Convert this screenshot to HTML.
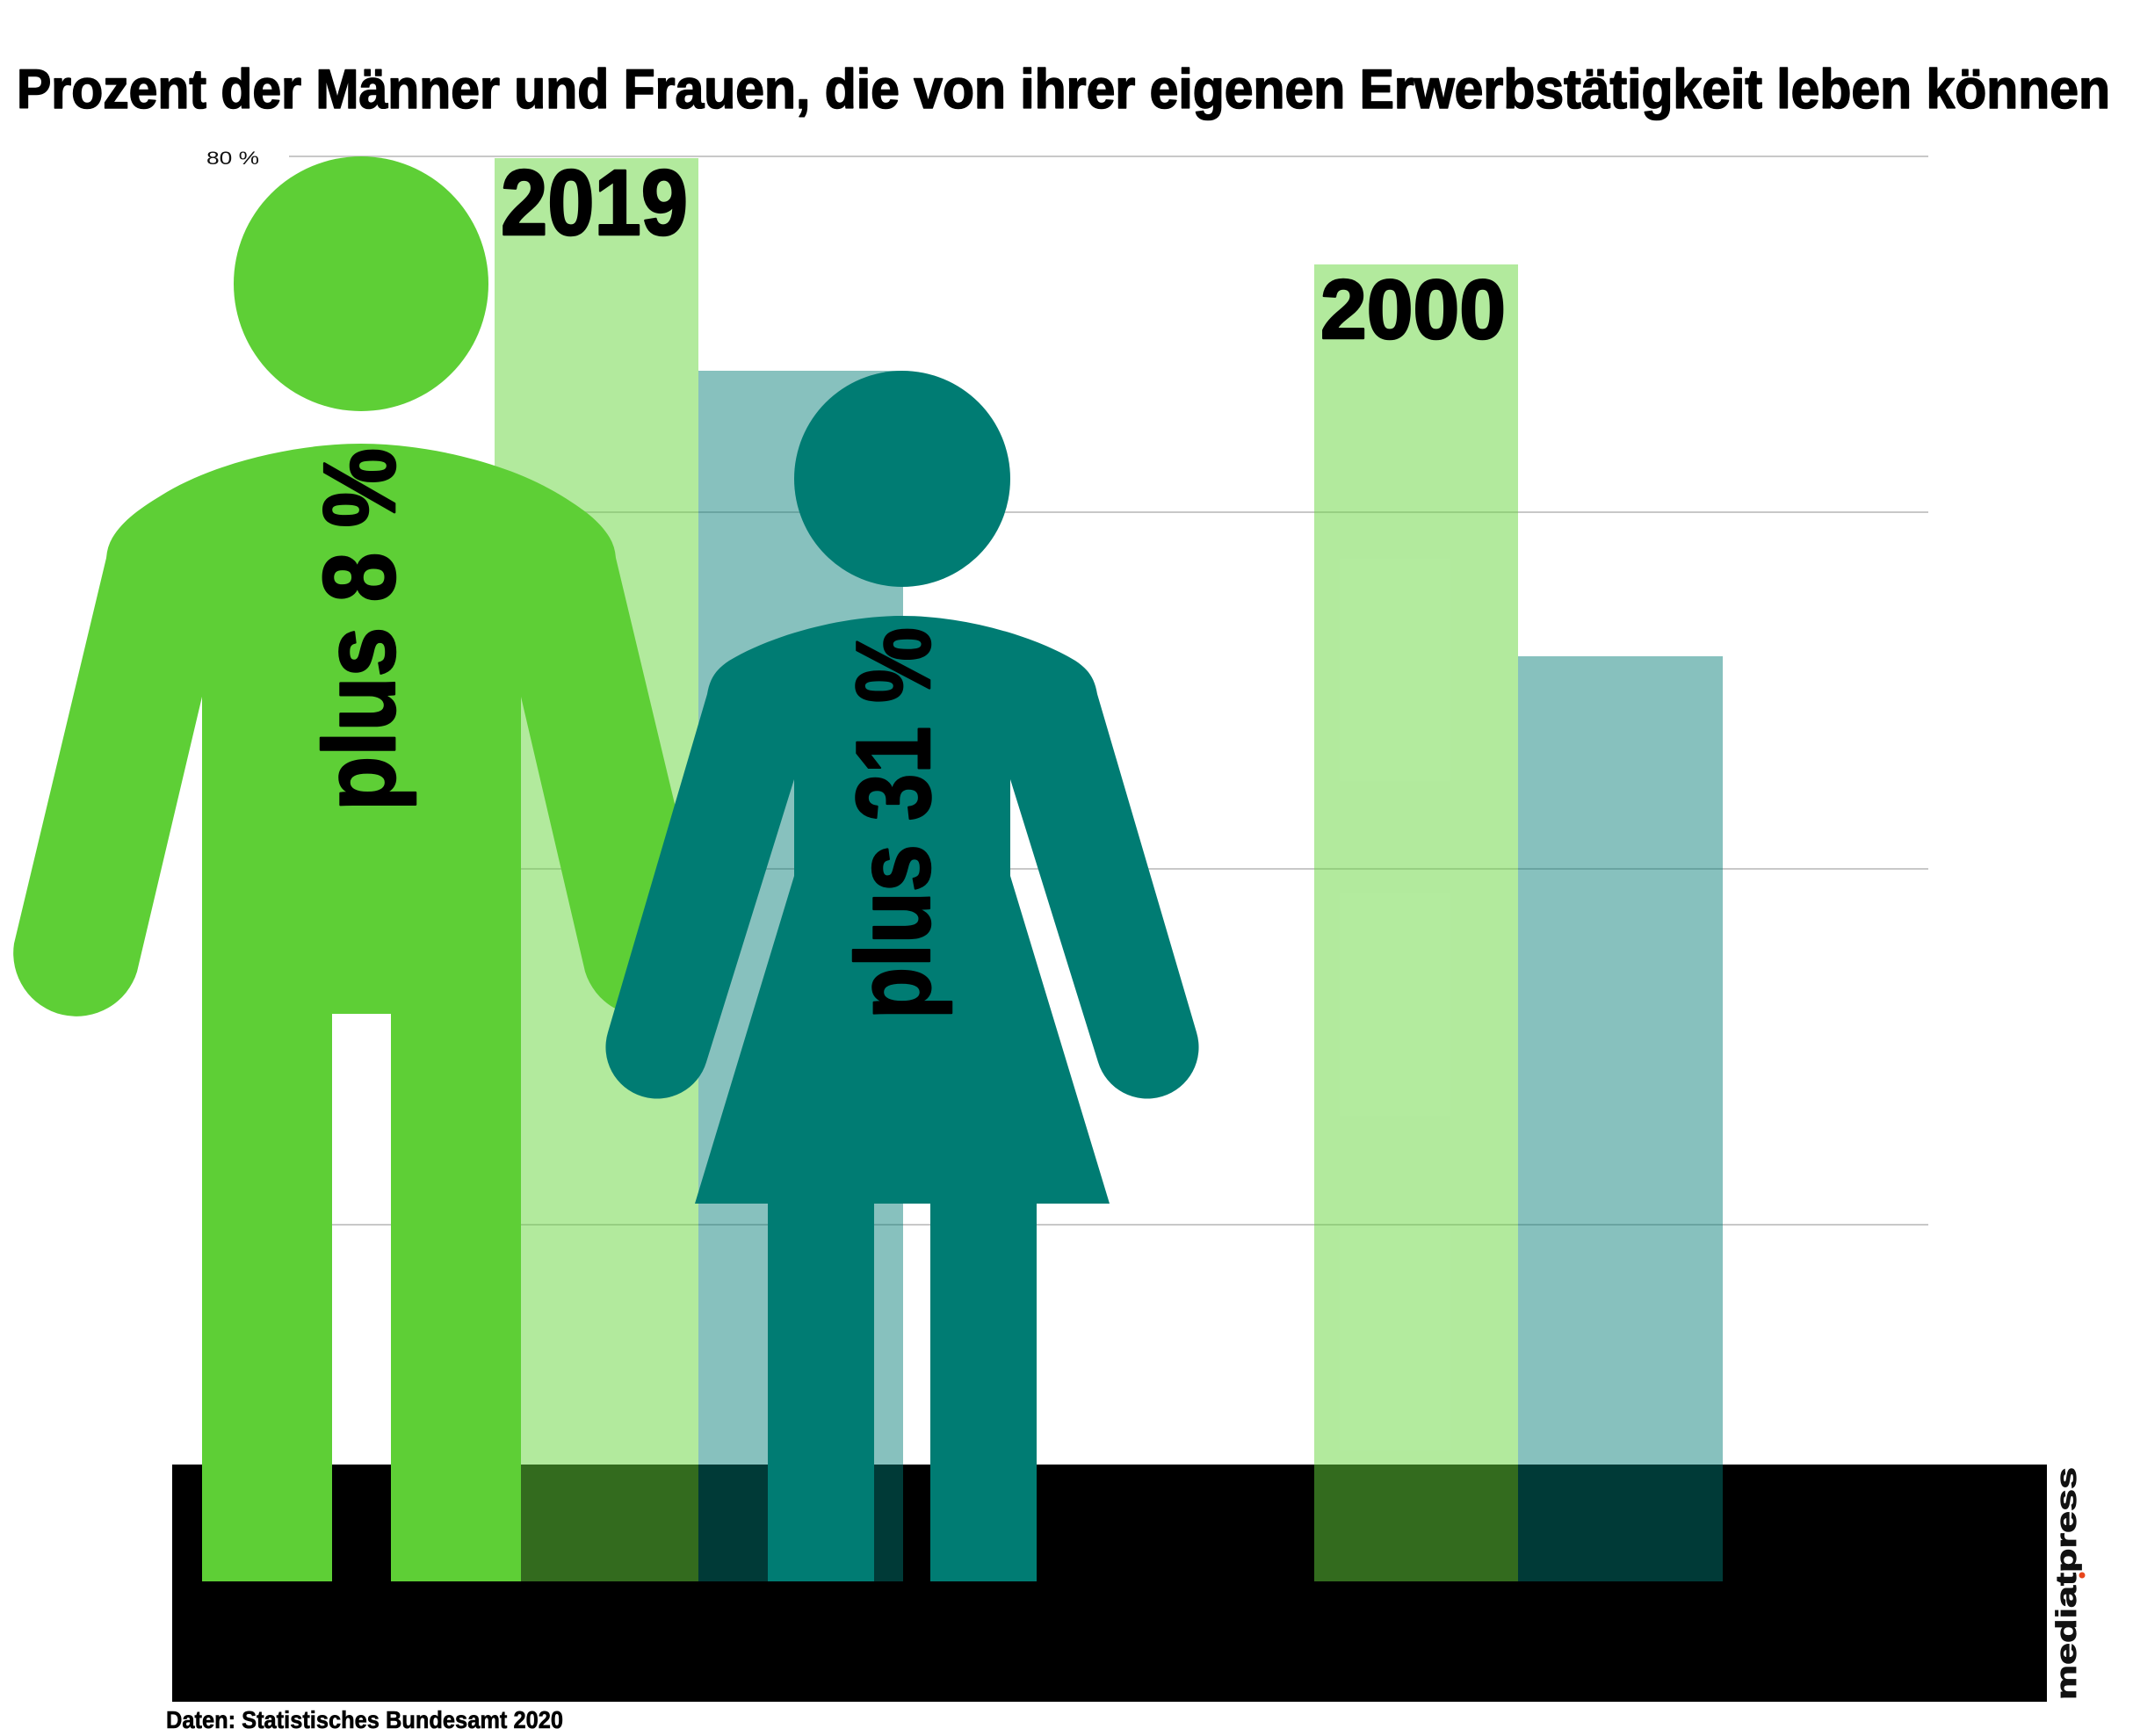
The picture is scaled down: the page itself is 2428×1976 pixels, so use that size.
<!DOCTYPE html>
<html>
<head>
<meta charset="utf-8">
<style>
  html, body { margin: 0; padding: 0; background: #ffffff; }
  svg { display: block; }
  text { font-family: "Liberation Sans", Arial, sans-serif; }
</style>
</head>
<body>
<svg width="2428" height="1976" viewBox="0 0 2428 1976" xmlns="http://www.w3.org/2000/svg">
  <rect x="0" y="0" width="2428" height="1976" fill="#ffffff"/>

  <!-- Title -->
  <text x="19" y="123" font-size="63" font-weight="bold" fill="#000" stroke="#000" stroke-width="1.6" stroke-linejoin="round" textLength="2383" lengthAdjust="spacingAndGlyphs">Prozent der Männer und Frauen, die von ihrer eigenen Erwerbstätigkeit leben können</text>

  <!-- Gridlines -->
  <g stroke="#c8c8c8" stroke-width="2">
    <line x1="329" y1="178" x2="2195" y2="178"/>
    <line x1="329" y1="583" x2="2195" y2="583"/>
    <line x1="329" y1="989" x2="2195" y2="989"/>
    <line x1="329" y1="1394" x2="2195" y2="1394"/>
  </g>
  <text x="235" y="187" font-size="21" fill="#111" textLength="60" lengthAdjust="spacingAndGlyphs">80 %</text>

  <!-- Black base band -->
  <rect x="196" y="1667" width="2134" height="270" fill="#000000"/>

  <!-- Bars (semi-transparent) -->
  <rect x="563" y="180" width="232" height="1620" fill="rgb(102,214,60)" fill-opacity="0.5"/>
  <rect x="795" y="422" width="233" height="1378" fill="rgb(0,123,117)" fill-opacity="0.47"/>
  <rect x="1496" y="301" width="232" height="1499" fill="rgb(102,214,60)" fill-opacity="0.5"/>
  <rect x="1728" y="747" width="233" height="1053" fill="rgb(0,123,117)" fill-opacity="0.47"/>

  <!-- Man figure -->
  <g fill="#5ecf36">
    <circle cx="411" cy="323" r="145"/>
    <path d="M411,505
             C340,505 250,525 190,560
             C160,578 140,592 128,612
             Q122,622 121,635
             L16,1074
             A72,72 0 0 0 156,1106
             L230,793
             L230,1800 L378,1800 L378,1154 L445,1154 L445,1800 L593,1800
             L593,793
             L666,1106
             A72,72 0 0 0 806,1074
             L701,635
             Q700,622 694,612
             C682,592 662,578 632,560
             C572,525 482,505 411,505 Z"/>
  </g>

  <!-- Woman figure -->
  <g fill="#007c73">
    <circle cx="1027" cy="545" r="123"/>
    <path d="M1027,701
             C960,701 880,722 830,752
             C815,762 808,772 805,790
             L692,1175
             A58,58 0 0 0 804,1209
             L904,887
             L904,997
             L791,1370
             L874,1370 L874,1800 L995,1800 L995,1370
             L1059,1370 L1059,1800 L1180,1800 L1180,1370
             L1263,1370
             L1150,997
             L1150,887
             L1250,1209
             A58,58 0 0 0 1362,1175
             L1249,790
             C1246,772 1239,762 1224,752
             C1174,722 1094,701 1027,701 Z"/>
  </g>

  <!-- Year labels -->
  <text x="570" y="267" font-size="106" font-weight="bold" fill="#000" stroke="#000" stroke-width="2.5" stroke-linejoin="round" textLength="213" lengthAdjust="spacingAndGlyphs">2019</text>
  <text x="1503" y="385" font-size="96" font-weight="bold" fill="#000" stroke="#000" stroke-width="2.5" stroke-linejoin="round" textLength="211" lengthAdjust="spacingAndGlyphs">2000</text>

  <!-- Rotated labels -->
  <text transform="translate(449,923) rotate(-90)" font-size="116" font-weight="bold" fill="#000" stroke="#000" stroke-width="2.5" stroke-linejoin="round" textLength="413" lengthAdjust="spacingAndGlyphs">plus 8 %</text>
  <text transform="translate(1058,1160) rotate(-90)" font-size="120" font-weight="bold" fill="#000" stroke="#000" stroke-width="2.5" stroke-linejoin="round" textLength="446" lengthAdjust="spacingAndGlyphs">plus 31 %</text>

  <!-- Footer -->
  <text x="189" y="1967" font-size="28" font-weight="bold" fill="#000" stroke="#000" stroke-width="0.6" textLength="452" lengthAdjust="spacingAndGlyphs">Daten: Statistisches Bundesamt 2020</text>

  <!-- Logo -->
  <text transform="translate(2363,1935) rotate(-90)" font-size="32" font-weight="bold" fill="#111" stroke="#111" stroke-width="0.8" textLength="265" lengthAdjust="spacingAndGlyphs">mediatpress</text>
  <circle cx="2370" cy="1793" r="3.5" fill="#e8461c"/>
</svg>
</body>
</html>
